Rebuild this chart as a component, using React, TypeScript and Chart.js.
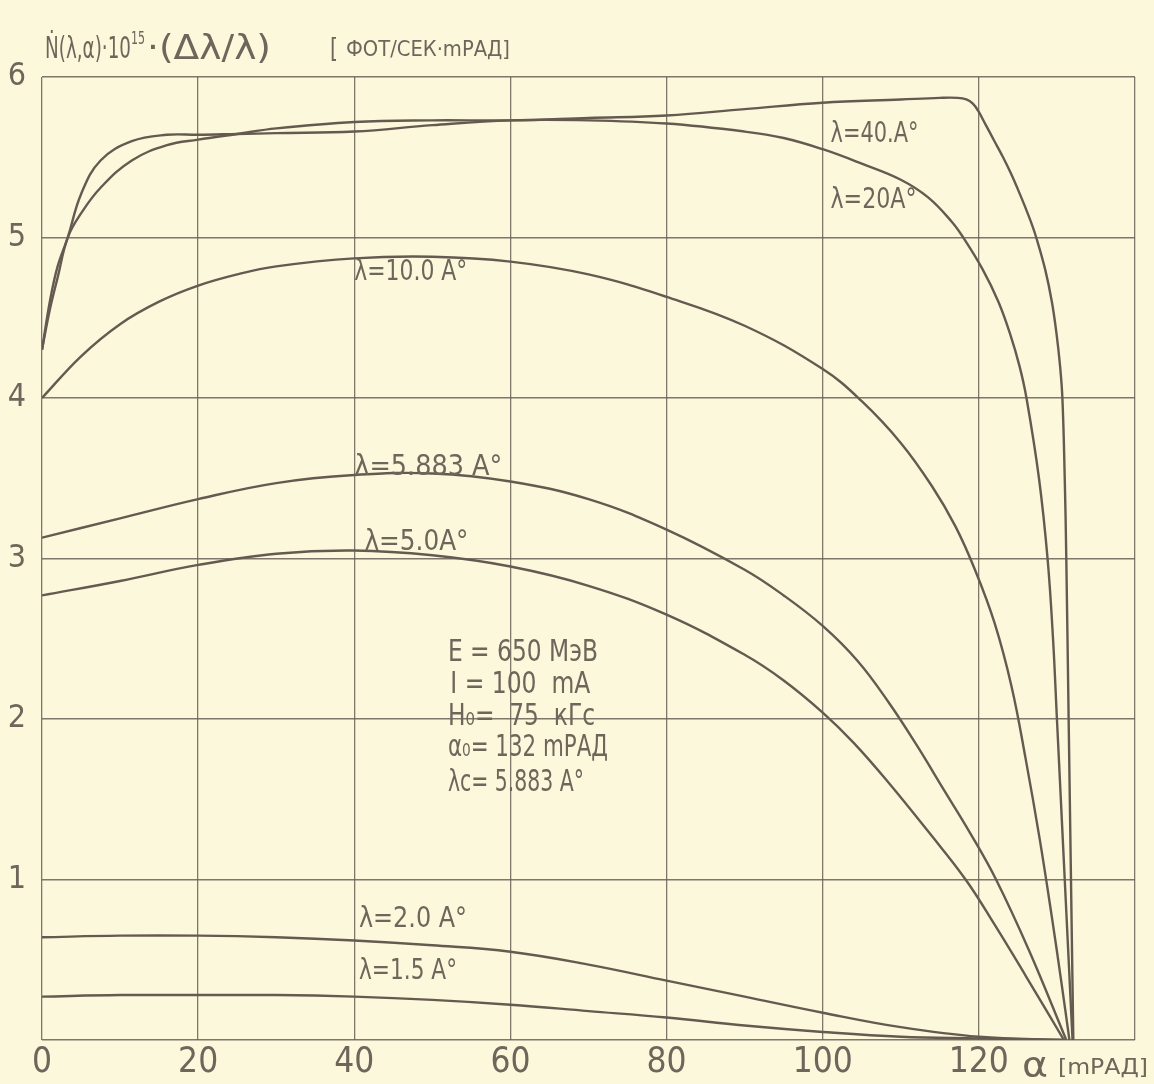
import React, { useEffect, useRef } from "react";
import { Chart, registerables } from "chart.js";

Chart.register(...registerables);

// ---- data (α in mrad, Ṅ·10^15·(Δλ/λ)) ----
const X_40 = [0, 1, 2, 3.3, 5, 7.5, 11.5, 16, 20, 25, 30, 40, 50, 60, 70, 80, 90, 100, 110, 115, 117.3, 118.4, 119.2, 119.9, 120.9, 122.0, 123.1, 124.1, 125.0, 125.85, 126.65, 127.35, 128.5, 129.35, 129.95, 130.4, 130.7, 131.0, 131.2, 131.5, 131.8, 132.1];
const Y_40 = [4.3, 4.55, 4.75, 5.0, 5.15, 5.31, 5.48, 5.575, 5.61, 5.645, 5.68, 5.72, 5.73, 5.73, 5.745, 5.76, 5.8, 5.84, 5.86, 5.87, 5.87, 5.86, 5.835, 5.79, 5.7, 5.6, 5.5, 5.4, 5.3, 5.2, 5.1, 5.0, 4.8, 4.6, 4.4, 4.2, 4.0, 3.5, 3.0, 2.0, 1.0, 0];

const X_20 = [0, 1, 2, 3.3, 5, 7.5, 11.5, 16, 20, 25, 30, 40, 50, 60, 70, 80, 90, 95, 100, 105, 110, 113.5, 116.5, 118.0, 120.5, 122.5, 124.0, 125.2, 126.1, 127.7, 128.8, 129.5, 130.0, 130.5, 131.0, 131.5, 132];
const Y_20 = [4.3, 4.6, 4.82, 5.0, 5.27, 5.48, 5.6, 5.64, 5.64, 5.645, 5.65, 5.66, 5.7, 5.73, 5.73, 5.71, 5.66, 5.62, 5.55, 5.46, 5.36, 5.25, 5.1, 5.0, 4.8, 4.6, 4.4, 4.2, 4.0, 3.5, 3.0, 2.5, 2.0, 1.5, 1.0, 0.5, 0];

const X_10 = [0, 5, 10, 15, 20, 25, 30, 40, 50, 60, 70, 80, 90, 100, 105, 110, 114, 117, 119.5, 122, 124.2, 126.0, 127.8, 129.4, 130.6, 131.6];
const Y_10 = [4.0, 4.26, 4.46, 4.6, 4.7, 4.77, 4.82, 4.87, 4.88, 4.85, 4.77, 4.63, 4.45, 4.18, 3.98, 3.72, 3.45, 3.2, 2.93, 2.6, 2.2, 1.75, 1.25, 0.75, 0.35, 0];

const X_5883 = [0, 10, 20, 30, 40, 50, 60, 70, 80, 90, 95, 100, 104.5, 108.5, 112, 115.5, 119, 122.2, 126.5, 131.2];
const Y_5883 = [3.13, 3.25, 3.37, 3.47, 3.52, 3.53, 3.48, 3.37, 3.18, 2.93, 2.77, 2.58, 2.36, 2.1, 1.84, 1.56, 1.28, 1.0, 0.55, 0];

const X_50 = [0, 10, 20, 30, 40, 50, 60, 70, 80, 90, 95, 100, 104, 108.5, 113.5, 118.3, 122, 126, 130.9];
const Y_50 = [2.77, 2.86, 2.96, 3.03, 3.05, 3.02, 2.95, 2.83, 2.65, 2.4, 2.24, 2.04, 1.85, 1.6, 1.3, 1.0, 0.72, 0.4, 0];

const X_20A = [0, 10, 20, 30, 40, 50, 60, 70, 80, 90, 100, 110, 120, 131];
const Y_20A = [0.64, 0.65, 0.65, 0.64, 0.62, 0.59, 0.55, 0.47, 0.37, 0.27, 0.17, 0.08, 0.02, 0];

const X_15A = [0, 10, 20, 30, 40, 50, 60, 70, 80, 90, 100, 110, 120, 131];
const Y_15A = [0.27, 0.28, 0.28, 0.28, 0.27, 0.25, 0.22, 0.18, 0.14, 0.09, 0.05, 0.02, 0.01, 0];

const X_TICKS = [0, 20, 40, 60, 80, 100, 120];
const Y_TICKS = [1, 2, 3, 4, 5, 6];

const CURVE_LABELS = ["λ=40.A°", "λ=20A°", "λ=10.0 A°", "λ=5.883 A°", "λ=5.0A°", "λ=2.0 A°", "λ=1.5 A°"];
const CURVE_LABEL_AT: [number, number][] = [[101, 5.64], [101, 5.23], [40, 4.78], [40, 3.57], [41.3, 3.1], [40.6, 0.75], [40.6, 0.43]];
const CURVE_LABEL_W = [88, 86, 113, 148, 104, 108, 98];

const PARAMS = ["E = 650 МэВ", "I = 100  mA", "H₀=  75  кГс", "α₀= 132 mРАД", "λc= 5.883 A°"];
const PARAMS_AT: [number, number][] = [[52, 2.41], [52.3, 2.21], [52, 2.01], [52, 1.82], [52, 1.6]];
const PARAMS_W = [150, 140, 147, 160, 136];

const PAPER = "#fcf8dc";
const INK = "#6e665a";
const LINE = "#655a50";
const GRID = "rgba(105,96,86,0.85)";
const FONT = '"Liberation Sans Narrow", "DejaVu Sans Condensed", sans-serif';

function pts(xs: number[], ys: number[]) {
  return xs.map((x, i) => ({ x, y: ys[i] }));
}

// draws text left-aligned at (x,y), horizontally fitted to width w
function fitText(ctx: CanvasRenderingContext2D, text: string, x: number, y: number, size: number, w: number) {
  ctx.save();
  ctx.font = `${size}px ${FONT}`;
  const m = ctx.measureText(text).width || 1;
  ctx.translate(x, y);
  ctx.scale(w / m, 1);
  ctx.fillText(text, 0, 0);
  ctx.restore();
}

const paperPlugin = {
  id: "paper",
  beforeDraw(chart: any) {
    const ctx = chart.ctx;
    ctx.save();
    ctx.fillStyle = PAPER;
    ctx.fillRect(0, 0, chart.width, chart.height);
    ctx.restore();
  },
};

const textPlugin = {
  id: "texts",
  afterDraw(chart: any) {
    const ctx: CanvasRenderingContext2D = chart.ctx;
    const xs = chart.scales.x;
    const ys = chart.scales.y;
    ctx.save();
    ctx.fillStyle = INK;
    ctx.textBaseline = "middle";
    ctx.textAlign = "left";
    CURVE_LABELS.forEach((t, i) => {
      const [dx, dy] = CURVE_LABEL_AT[i];
      fitText(ctx, t, xs.getPixelForValue(dx), ys.getPixelForValue(dy), 29, CURVE_LABEL_W[i]);
    });
    PARAMS.forEach((t, i) => {
      const [dx, dy] = PARAMS_AT[i];
      fitText(ctx, t, xs.getPixelForValue(dx), ys.getPixelForValue(dy), 31, PARAMS_W[i]);
    });
    // y-axis title
    ctx.textBaseline = "alphabetic";
    fitText(ctx, "Ṅ(λ,α)·10", 45, 58, 30, 86);
    fitText(ctx, "15", 131, 44, 17, 14);
    fitText(ctx, "·(Δλ/λ)", 147, 59, 33, 124);
    fitText(ctx, "[", 330, 57, 26, 8);
    fitText(ctx, "ФОТ/СЕК·mРАД]", 346, 56, 21, 164);
    // x-axis title
    fitText(ctx, "α", 1022, 1077, 36, 26);
    fitText(ctx, "[mРАД]", 1058, 1074, 22, 90);
    ctx.restore();
  },
};

export default function App() {
  const ref = useRef<HTMLCanvasElement | null>(null);
  useEffect(() => {
    if (!ref.current) return;
    const mk = (label: string, xs: number[], ys: number[]) => ({
      label,
      data: pts(xs, ys),
      borderColor: LINE,
      borderWidth: 2.4,
      pointRadius: 0,
      fill: false,
      tension: 0.4,
    });
    const chart = new Chart(ref.current, {
      type: "line",
      data: {
        datasets: [
          mk("λ=40 Å", X_40, Y_40),
          mk("λ=20 Å", X_20, Y_20),
          mk("λ=10.0 Å", X_10, Y_10),
          mk("λ=5.883 Å", X_5883, Y_5883),
          mk("λ=5.0 Å", X_50, Y_50),
          mk("λ=2.0 Å", X_20A, Y_20A),
          mk("λ=1.5 Å", X_15A, Y_15A),
        ],
      },
      options: {
        animation: false,
        responsive: false,
        devicePixelRatio: 1,
        layout: { padding: { top: 77, right: 19, left: 0, bottom: 0 } },
        plugins: { legend: { display: false }, tooltip: { enabled: false } },
        scales: {
          x: {
            type: "linear",
            min: 0,
            max: 140,
            afterFit: (s: any) => { s.height = 44; },
            afterBuildTicks: (s: any) => {
              s.ticks = [...X_TICKS, 140].map((v) => ({ value: v }));
            },
            ticks: {
              autoSkip: false,
              maxRotation: 0,
              padding: 2,
              color: INK,
              font: { family: FONT, size: 35 },
              callback: (v: any) => (X_TICKS.includes(Number(v)) ? String(v) : ""),
            },
            grid: { color: GRID, lineWidth: 1.3, drawTicks: false },
            border: { display: false },
          },
          y: {
            type: "linear",
            min: 0,
            max: 6,
            afterFit: (s: any) => { s.width = 42; },
            afterBuildTicks: (s: any) => {
              s.ticks = [0, ...Y_TICKS].map((v) => ({ value: v }));
            },
            ticks: {
              padding: 16,
              color: INK,
              font: { family: FONT, size: 32 },
              callback: (v: any) => (Y_TICKS.includes(Number(v)) ? String(v) : ""),
            },
            grid: { color: GRID, lineWidth: 1.6, drawTicks: false },
            border: { display: false },
          },
        },
      },
      plugins: [paperPlugin, textPlugin],
    });
    return () => chart.destroy();
  }, []);
  return (
    <div style={{ position: "fixed", left: 0, top: 0, width: 1154, height: 1084, background: PAPER }}>
      <canvas ref={ref} width={1154} height={1084} style={{ width: 1154, height: 1084, display: "block" }} />
    </div>
  );
}
